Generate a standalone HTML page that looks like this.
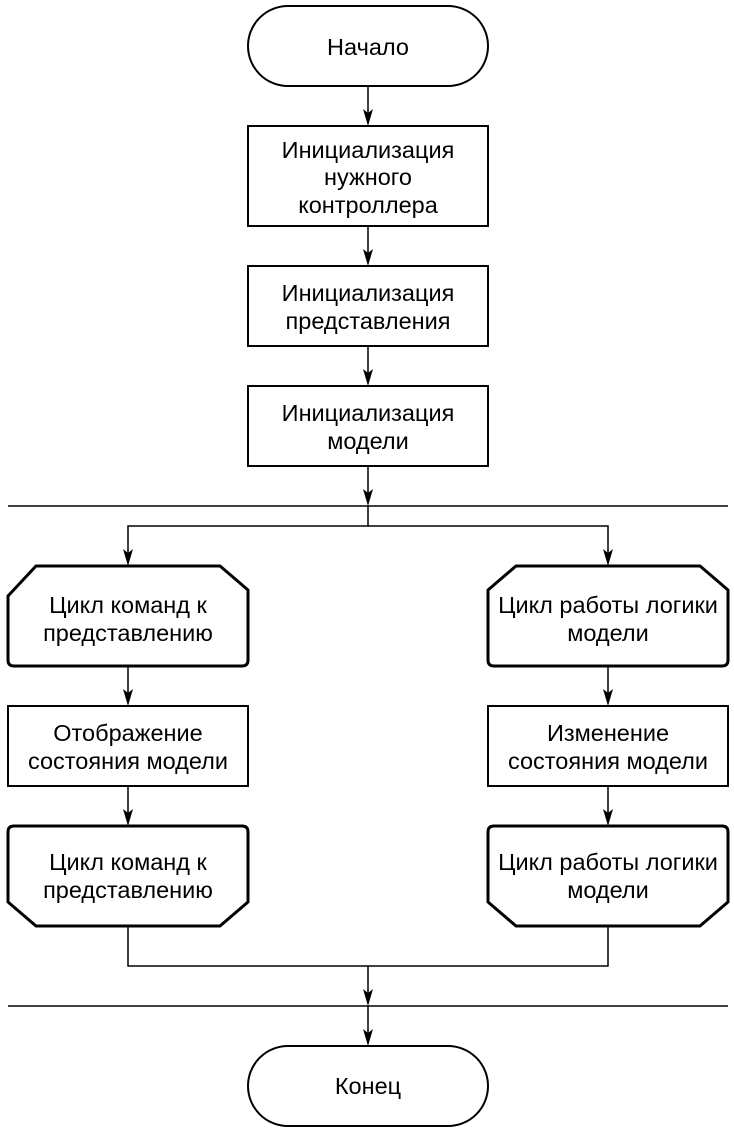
<!DOCTYPE html>
<html><head><meta charset="utf-8"><style>
html,body{margin:0;padding:0;background:#fff;}
svg{display:block;}
text{font-family:"Liberation Sans",Arial,sans-serif;font-size:23.5px;fill:#000;}
</style></head><body>
<svg width="734" height="1132" viewBox="0 0 734 1132" xmlns="http://www.w3.org/2000/svg">
<g fill="none" stroke="#000" stroke-width="2">
<rect x="248" y="6" width="240" height="80" rx="40"/>
<rect x="248" y="126" width="240" height="100"/>
<rect x="248" y="266" width="240" height="80"/>
<rect x="248" y="386" width="240" height="80"/>
<rect x="8" y="706" width="240" height="80"/>
<rect x="488" y="706" width="240" height="80"/>
<rect x="248" y="1046" width="240" height="80" rx="40"/>
<line x1="8" y1="506" x2="728" y2="506" stroke-width="1.5"/>
<line x1="8" y1="1006" x2="728" y2="1006" stroke-width="1.5"/>
</g>
<g fill="none" stroke="#000" stroke-width="1.5">
<line x1="368" y1="86" x2="368" y2="116"/>
<line x1="368" y1="226" x2="368" y2="256"/>
<line x1="368" y1="346" x2="368" y2="376"/>
<line x1="368" y1="466" x2="368" y2="496"/>
<polyline points="368,506 368,526 128,526 128,556"/>
<polyline points="368,526 608,526 608,556"/>
<line x1="128" y1="666" x2="128" y2="696"/>
<line x1="608" y1="666" x2="608" y2="696"/>
<line x1="128" y1="786" x2="128" y2="816"/>
<line x1="608" y1="786" x2="608" y2="816"/>
<polyline points="128,926 128,966 608,966 608,926"/>
<line x1="368" y1="966" x2="368" y2="996"/>
<line x1="368" y1="1006" x2="368" y2="1036"/>
</g>
<g fill="#000">
<path d="M368,126 l-5,-17 l5,4 l5,-4 z"/>
<path d="M368,266 l-5,-17 l5,4 l5,-4 z"/>
<path d="M368,386 l-5,-17 l5,4 l5,-4 z"/>
<path d="M368,506 l-5,-17 l5,4 l5,-4 z"/>
<path d="M128,566 l-5,-17 l5,4 l5,-4 z"/>
<path d="M608,566 l-5,-17 l5,4 l5,-4 z"/>
<path d="M128,706 l-5,-17 l5,4 l5,-4 z"/>
<path d="M608,706 l-5,-17 l5,4 l5,-4 z"/>
<path d="M128,826 l-5,-17 l5,4 l5,-4 z"/>
<path d="M608,826 l-5,-17 l5,4 l5,-4 z"/>
<path d="M368,1006 l-5,-17 l5,4 l5,-4 z"/>
<path d="M368,1046 l-5,-17 l5,4 l5,-4 z"/>
</g>
<g fill="none" stroke="#000" stroke-width="3" stroke-linejoin="round">
<path d="M8,596 L36,566 L220,566 L248,590 L248,660 Q248,666 242,666 L14,666 Q8,666 8,660 Z"/>
<path d="M488,590 L516,566 L700,566 L728,590 L728,660 Q728,666 722,666 L494,666 Q488,666 488,660 Z"/>
<path d="M8,832 Q8,826 14,826 L242,826 Q248,826 248,832 L248,902 L220,926 L36,926 L8,902 Z"/>
<path d="M488,832 Q488,826 494,826 L722,826 Q728,826 728,832 L728,902 L700,926 L516,926 L488,902 Z"/>
</g>
<g text-anchor="middle">
<text x="368" y="55">Начало</text>
<text x="368" y="158">Инициализация</text>
<text x="368" y="185">нужного</text>
<text x="368" y="213">контроллера</text>
<text x="368" y="301">Инициализация</text>
<text x="368" y="329">представления</text>
<text x="368" y="421">Инициализация</text>
<text x="368" y="449">модели</text>
<text x="128" y="613">Цикл команд к</text>
<text x="128" y="641">представлению</text>
<text x="608" y="613">Цикл работы логики</text>
<text x="608" y="641">модели</text>
<text x="128" y="741">Отображение</text>
<text x="128" y="769">состояния модели</text>
<text x="608" y="741">Изменение</text>
<text x="608" y="769">состояния модели</text>
<text x="128" y="870">Цикл команд к</text>
<text x="128" y="898">представлению</text>
<text x="608" y="870">Цикл работы логики</text>
<text x="608" y="898">модели</text>
<text x="368" y="1094">Конец</text>
</g>
</svg>
</body></html>
